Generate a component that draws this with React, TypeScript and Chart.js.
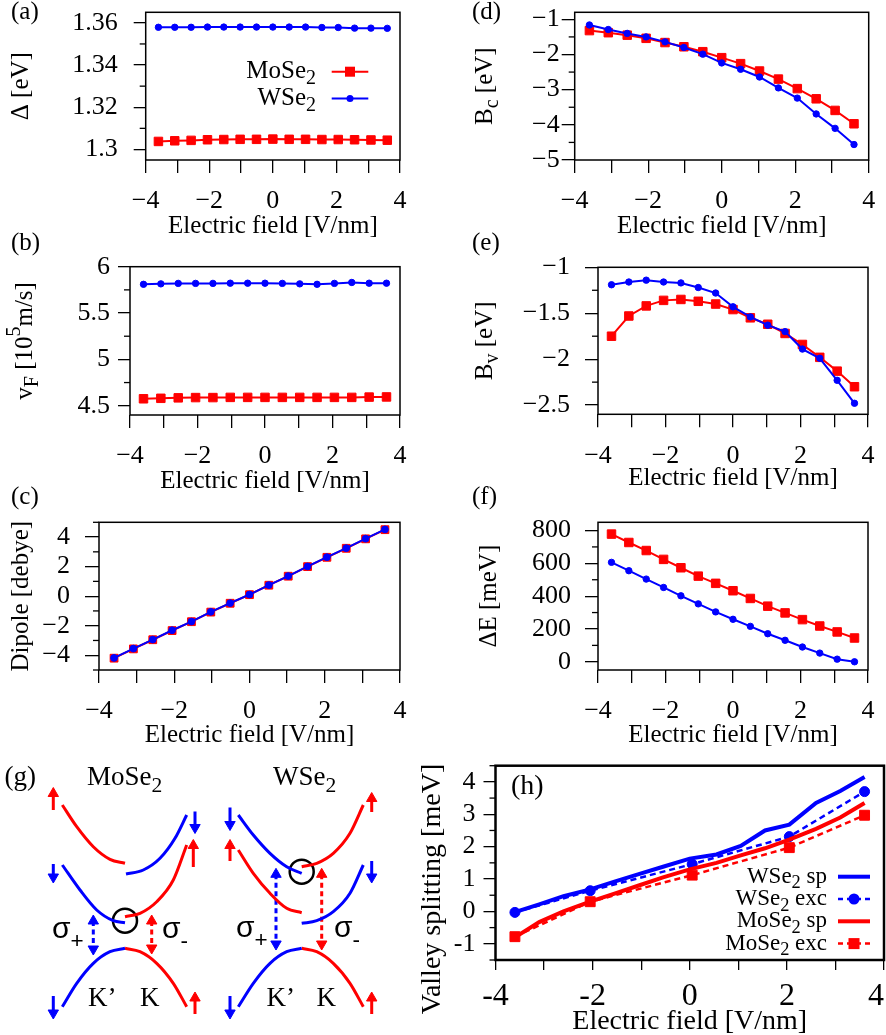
import React, { useEffect, useRef } from 'react';
import { Chart, registerables } from 'chart.js';

Chart.register(...registerables);

const PAGE_W = 886;
const PAGE_H = 1035;
const RED = '#ff0000';
const BLUE = '#0000ff';
const SERIF = '"Liberation Serif", "Times New Roman", Times, serif';
const SANS = '"Liberation Sans", Arial, sans-serif';

// ---------------- data: panels (a)-(f) ----------------
const fieldVnm = [-3.6, -3.086, -2.571, -2.057, -1.543, -1.029, -0.514, 0, 0.514, 1.029, 1.543, 2.057, 2.571, 3.086, 3.6];

const gapMoSe2 = [1.3038, 1.3041, 1.3043, 1.3046, 1.3047, 1.3048, 1.3048, 1.3049, 1.3048, 1.3048, 1.3047, 1.3047, 1.3046, 1.3045, 1.3044];
const gapWSe2 = [1.3579, 1.3579, 1.3579, 1.358, 1.358, 1.358, 1.358, 1.358, 1.358, 1.358, 1.3578, 1.3578, 1.3575, 1.3575, 1.3574];

const vfMoSe2 = [4.575, 4.58, 4.585, 4.588, 4.588, 4.59, 4.59, 4.59, 4.59, 4.59, 4.59, 4.59, 4.59, 4.593, 4.595];
const vfWSe2 = [5.81, 5.815, 5.82, 5.82, 5.82, 5.822, 5.822, 5.822, 5.82, 5.815, 5.81, 5.82, 5.83, 5.822, 5.822];

const dipoleMoSe2 = [-4.2, -3.57, -2.95, -2.33, -1.73, -1.08, -0.48, 0.1, 0.74, 1.35, 2.0, 2.63, 3.24, 3.88, 4.5];
const dipoleWSe2 = [-4.18, -3.55, -2.94, -2.31, -1.72, -1.06, -0.47, 0.11, 0.75, 1.36, 2.01, 2.64, 3.25, 3.89, 4.52];

const bcMoSe2 = [-1.32, -1.38, -1.45, -1.54, -1.66, -1.78, -1.92, -2.09, -2.26, -2.47, -2.7, -2.97, -3.26, -3.59, -3.97];
const bcWSe2 = [-1.16, -1.29, -1.4, -1.5, -1.64, -1.8, -1.99, -2.24, -2.42, -2.64, -2.95, -3.24, -3.69, -4.1, -4.56];

const bvMoSe2 = [-1.75, -1.53, -1.42, -1.36, -1.35, -1.37, -1.4, -1.46, -1.55, -1.62, -1.72, -1.84, -1.98, -2.13, -2.3];
const bvWSe2 = [-1.19, -1.16, -1.14, -1.16, -1.17, -1.22, -1.28, -1.43, -1.54, -1.63, -1.7, -1.89, -1.99, -2.23, -2.48];

const dEMoSe2 = [778, 727, 678, 624, 573, 522, 478, 433, 386, 339, 298, 257, 218, 182, 145];
const dEWSe2 = [606, 555, 504, 453, 402, 353, 304, 259, 216, 171, 131, 90, 53, 16, 0];

// ---------------- data: panel (h) ----------------
const spField = [-3.6, -3.1, -2.6, -2.05, -1.55, -1.05, -0.55, 0, 0.55, 1.05, 1.55, 2.05, 2.6, 3.1, 3.6];
const wse2Sp = [-0.02, 0.22, 0.47, 0.68, 0.92, 1.15, 1.38, 1.63, 1.76, 2.02, 2.5, 2.68, 3.35, 3.72, 4.15];
const mose2Sp = [-0.8, -0.33, 0.0, 0.3, 0.55, 0.8, 1.05, 1.3, 1.5, 1.73, 1.95, 2.22, 2.55, 2.9, 3.35];
const excField = [-3.6, -2.05, 0.05, 2.05, 3.6];
const wse2Exc = [-0.03, 0.64, 1.46, 2.31, 3.7];
const mose2Exc = [-0.78, 0.3, 1.12, 1.97, 2.97];

// ---------------- tick labels ----------------
const fieldTicks = [-4, -3, -2, -1, 0, 1, 2, 3, 4];
const fieldTickLabels = ['\u22124', '', '\u22122', '', '0', '', '2', '', '4'];
// last label of (h) is drawn separately (it sits against the figure edge)
const fieldTickLabelsH = ['-4', '', '-2', '', '0', '', '2', '', ''];
const fieldLastLabelH = '4';

const gapTicks = [1.3, 1.32, 1.34, 1.36];
const gapTickLabels = ['1.3', '1.32', '1.34', '1.36'];
const gapMinor = [1.31, 1.33, 1.35];

const vfTicks = [4.5, 5, 5.5, 6];
const vfTickLabels = ['4.5', '5', '5.5', '6'];
const vfMinor = [4.75, 5.25, 5.75];

const dipoleTicks = [-4, -2, 0, 2, 4];
const dipoleTickLabels = ['\u22124', '\u22122', '0', '2', '4'];
const dipoleMinor = [-5, -3, -1, 1, 3, 5];

const bcTicks = [-5, -4, -3, -2, -1];
const bcTickLabels = ['\u22125', '\u22124', '\u22123', '\u22122', '\u22121'];
const bcMinor = [-4.5, -3.5, -2.5, -1.5];

const bvTicks = [-2.5, -2, -1.5, -1];
const bvTickLabels = ['\u22122.5', '\u22122', '\u22121.5', '\u22121'];
const bvMinor = [-2.25, -1.75, -1.25];

const dETicks = [0, 200, 400, 600, 800];
const dETickLabels = ['0', '200', '400', '600', '800'];
const dEMinor = [100, 300, 500, 700];

const vsTicks = [-1, 0, 1, 2, 3, 4];
const vsTickLabels = ['-1', '0', '1', '2', '3', '4'];
const vsMinor = [-1.5, -0.5, 0.5, 1.5, 2.5, 3.5, 4.5];

// ---------------- data: panel (g) schematic (k, E in arbitrary units) ----------------
const moCbTopKp: number[][] = [[6.23, 23.0], [7.67, 20.83], [9.33, 18.83], [11.0, 17.57], [12.5, 17.17]];
const moCbTopK: number[][] = [[12.6, 16.1], [14.33, 16.5], [16.0, 17.67], [17.5, 19.67], [18.67, 22.0]];
const moCbBotKp: number[][] = [[6.23, 17.0], [8.0, 14.5], [9.67, 12.5], [11.33, 11.43], [12.5, 11.23]];
const moCbBotK: number[][] = [[12.5, 11.83], [14.0, 12.17], [15.67, 13.33], [17.33, 15.5], [18.67, 19.0]];
const moVbKp: number[][] = [[6.23, 2.83], [7.67, 5.17], [9.33, 7.17], [11.0, 8.33], [12.5, 8.67]];
const moVbK: number[][] = [[12.5, 8.67], [14.0, 8.33], [15.67, 7.17], [17.33, 5.17], [18.67, 2.83]];

const wCbTopKp: number[][] = [[23.83, 22.0], [25.33, 20.0], [27.0, 18.17], [28.67, 16.83], [30.17, 16.17]];
const wCbTopK: number[][] = [[30.17, 16.83], [31.67, 17.17], [33.33, 18.17], [35.0, 20.17], [36.33, 23.0]];
const wCbBotKp: number[][] = [[23.83, 18.5], [25.33, 16.17], [27.0, 14.17], [28.67, 12.67], [30.17, 12.23]];
const wCbBotK: number[][] = [[30.17, 11.17], [31.67, 11.43], [33.33, 12.33], [35.0, 14.17], [36.33, 17.0]];
const wVbKp: number[][] = [[23.83, 2.83], [25.33, 5.17], [27.0, 7.17], [28.67, 8.33], [30.17, 8.67]];
const wVbK: number[][] = [[30.17, 8.67], [31.67, 8.33], [33.33, 7.17], [35.0, 5.17], [36.33, 2.83]];

// spin arrows: [k, E_tail, E_tip]
const spinRed: number[][] = [[5.33, 22.5, 24.75], [19.33, 16.8, 19.55], [19.5, 2.1, 4.3], [37.17, 22.3, 24.25], [23.0, 17.4, 19.55], [37.17, 2.1, 4.3]];
const spinBlue: number[][] = [[19.5, 22.35, 20.15], [5.33, 17.1, 15.2], [5.33, 3.9, 1.6], [23.0, 22.75, 20.45], [37.17, 17.4, 15.2], [23.0, 3.9, 1.6]];
// optical transitions: [k, E_top, E_bottom]
const opticalBlue: number[][] = [[9.33, 12.0, 8.0], [27.6, 16.67, 8.5]];
const opticalRed: number[][] = [[15.17, 12.0, 8.1], [32.17, 16.67, 8.5]];
const valleyCircles: number[][] = [[12.5, 11.43], [30.17, 16.33]];

// ---------------- helpers ----------------
type Part = { t: string; sub?: boolean; sup?: boolean };
type TextItem = {
  parts: Part[]; x: number; y: number; size: number;
  align?: 'left' | 'center' | 'right'; rotate?: boolean; family?: string; subDy?: number; subScale?: number;
};

function drawRich(ctx: CanvasRenderingContext2D, it: TextItem) {
  const fam = it.family || SERIF;
  const ss = it.subScale || 0.8;
  ctx.save();
  ctx.translate(it.x, it.y);
  if (it.rotate) ctx.rotate(-Math.PI / 2);
  ctx.fillStyle = '#000';
  ctx.textBaseline = 'middle';
  ctx.textAlign = 'left';
  const segs = it.parts.map((p) => {
    const fs = p.sub || p.sup ? it.size * ss : it.size;
    ctx.font = `${fs}px ${fam}`;
    return { p, fs, w: ctx.measureText(p.t).width };
  });
  const total = segs.reduce((s, g) => s + g.w, 0);
  const align = it.align || 'left';
  let cx = align === 'left' ? 0 : align === 'center' ? -total / 2 : -total;
  for (const g of segs) {
    ctx.font = `${g.fs}px ${fam}`;
    const dy = g.p.sub ? it.size * (it.subDy ?? 0.3) : g.p.sup ? -it.size * 0.42 : 0;
    ctx.fillText(g.p.t, cx, dy);
    cx += g.w;
  }
  ctx.restore();
}

type LegendRow = {
  parts: Part[]; y: number; textRight: number; x0: number; x1: number; size: number;
  color: string; width: number; dash?: number[]; marker?: 'rect' | 'circle'; mSize?: number;
};

function drawLegendRow(ctx: CanvasRenderingContext2D, r: LegendRow) {
  drawRich(ctx, { parts: r.parts, x: r.textRight, y: r.y, size: r.size, align: 'right' });
  ctx.save();
  ctx.strokeStyle = r.color;
  ctx.lineWidth = r.width;
  ctx.setLineDash(r.dash || []);
  ctx.beginPath();
  ctx.moveTo(r.x0, r.y);
  ctx.lineTo(r.x1, r.y);
  ctx.stroke();
  ctx.setLineDash([]);
  if (r.marker) {
    const m = r.mSize || 8;
    const cx = (r.x0 + r.x1) / 2;
    ctx.fillStyle = r.color;
    if (r.marker === 'rect') ctx.fillRect(cx - m / 2, r.y - m / 2, m, m);
    else {
      ctx.beginPath();
      ctx.arc(cx, r.y, m / 2, 0, Math.PI * 2);
      ctx.fill();
    }
  }
  ctx.restore();
}

type Series = { xs: number[]; ys: number[]; color: string; width: number; marker?: 'rect' | 'circle'; r?: number; dash?: number[] };

function toDataset(s: Series) {
  return {
    data: s.xs.map((x, i) => ({ x, y: s.ys[i] })),
    borderColor: s.color,
    backgroundColor: s.color,
    borderWidth: s.width,
    borderDash: s.dash || [],
    pointStyle: s.marker || 'circle',
    pointRadius: s.marker ? s.r : 0,
    pointHoverRadius: s.marker ? s.r : 0,
    pointBackgroundColor: s.color,
    pointBorderColor: s.color,
    pointBorderWidth: 1,
    tension: 0,
    fill: false,
  };
}

type AxisDef = {
  min: number; max: number; ticks: number[]; labels: string[]; minor?: number[];
  tickLen: number; minorLen?: number; pad: number; font: number;
};

type PanelDef = {
  box: [number, number, number, number];
  axisW: number; axisH: number;
  x: AxisDef; y: AxisDef; series: Series[]; frame: number;
  texts: TextItem[]; legend?: LegendRow[];
};

function axisOptions(d: AxisDef, isX: boolean, size: number) {
  return {
    type: 'linear',
    position: isX ? 'bottom' : 'left',
    min: d.min,
    max: d.max,
    afterBuildTicks: (s: any) => {
      s.ticks = d.ticks.map((v) => ({ value: v }));
    },
    afterFit: (s: any) => {
      if (isX) s.height = size;
      else s.width = size;
      s.paddingLeft = 0; s.paddingRight = 0; s.paddingTop = 0; s.paddingBottom = 0;
    },
    ticks: {
      autoSkip: false, maxRotation: 0, minRotation: 0, includeBounds: false,
      padding: d.pad, color: '#000', font: { family: SERIF, size: d.font },
      callback: (_v: any, i: number) => d.labels[i],
    },
    grid: { drawOnChartArea: false, color: '#000', lineWidth: 1.3, tickLength: d.tickLen },
    border: { display: false },
  };
}

function panelConfig(p: PanelDef): any {
  const [L, T, R, B] = p.box;
  const decor = {
    id: 'decor',
    afterDatasetsDraw(chart: any) {
      const ctx = chart.ctx as CanvasRenderingContext2D;
      const a = chart.chartArea;
      ctx.save();
      ctx.strokeStyle = '#000';
      ctx.lineWidth = p.frame;
      ctx.strokeRect(a.left, a.top, a.right - a.left, a.bottom - a.top);
      ctx.lineWidth = 1.3;
      const ys = chart.scales.y;
      for (const v of p.y.minor || []) {
        const py = ys.getPixelForValue(v);
        ctx.beginPath();
        ctx.moveTo(a.left - (p.y.minorLen || 6), py);
        ctx.lineTo(a.left, py);
        ctx.stroke();
      }
      ctx.restore();
      for (const t of p.texts) drawRich(ctx, t);
      for (const lg of p.legend || []) drawLegendRow(ctx, lg);
    },
  };
  return {
    type: 'line',
    data: { datasets: p.series.map(toDataset) },
    options: {
      responsive: false,
      animation: false,
      events: [],
      devicePixelRatio: 1,
      layout: { autoPadding: false, padding: { left: L - p.axisW, top: T, right: PAGE_W - R, bottom: PAGE_H - B - p.axisH } },
      plugins: { legend: { display: false }, tooltip: { enabled: false } },
      scales: { x: axisOptions(p.x, true, p.axisH), y: axisOptions(p.y, false, p.axisW) },
    },
    plugins: [decor],
  };
}

const TKF = 26;
const xAxisStd: AxisDef = { min: -4, max: 4, ticks: fieldTicks, labels: fieldTickLabels, tickLen: 13, pad: 13, font: TKF };
const XTITLE: Part[] = [{ t: 'Electric field [V/nm]' }];
const TFS = 25;

const PANELS: PanelDef[] = [
  {
    box: [145.7, 12.3, 400, 160], axisW: 145, axisH: 58,
    x: xAxisStd,
    y: { min: 1.295, max: 1.365, ticks: gapTicks, labels: gapTickLabels, minor: gapMinor, tickLen: 12, pad: 16, font: TKF },
    frame: 1.5,
    series: [
      { xs: fieldVnm, ys: gapWSe2, color: BLUE, width: 2, marker: 'circle', r: 3.2 },
      { xs: fieldVnm, ys: gapMoSe2, color: RED, width: 2, marker: 'rect', r: 6 },
    ],
    texts: [
      { parts: [{ t: '(a)' }], x: 11, y: 12.5, size: TFS },
      { parts: XTITLE, x: 272.9, y: 226.7, size: TFS, align: 'center' },
      { parts: [{ t: '\u0394 [eV]' }], x: 21, y: 86.2, size: TFS, align: 'center', rotate: true },
    ],
    legend: [
      { parts: [{ t: 'MoSe' }, { t: '2', sub: true }], y: 71.7, textRight: 316, x0: 331.7, x1: 368.3, size: TFS, color: RED, width: 2, marker: 'rect', mSize: 10 },
      { parts: [{ t: 'WSe' }, { t: '2', sub: true }], y: 98.5, textRight: 316, x0: 331.7, x1: 368.3, size: TFS, color: BLUE, width: 2, marker: 'circle', mSize: 7 },
    ],
  },
  {
    box: [130, 266.7, 400, 415], axisW: 129, axisH: 58,
    x: xAxisStd,
    y: { min: 4.4, max: 6.0, ticks: vfTicks, labels: vfTickLabels, minor: vfMinor, tickLen: 12, pad: 8, font: TKF },
    frame: 1.5,
    series: [
      { xs: fieldVnm, ys: vfWSe2, color: BLUE, width: 2, marker: 'circle', r: 3.2 },
      { xs: fieldVnm, ys: vfMoSe2, color: RED, width: 2, marker: 'rect', r: 6 },
    ],
    texts: [
      { parts: [{ t: '(b)' }], x: 11, y: 243, size: TFS },
      { parts: XTITLE, x: 265, y: 481.7, size: TFS, align: 'center' },
      {
        parts: [{ t: 'v' }, { t: 'F', sub: true }, { t: ' [10' }, { t: '5', sup: true }, { t: 'm/s]' }],
        x: 25, y: 340.9, size: TFS, align: 'center', rotate: true,
      },
    ],
  },
  {
    box: [99, 522.3, 400, 670], axisW: 98, axisH: 58,
    x: xAxisStd,
    y: { min: -5, max: 5, ticks: dipoleTicks, labels: dipoleTickLabels, minor: dipoleMinor, tickLen: 14, pad: 15, font: TKF },
    frame: 1.5,
    series: [
      { xs: fieldVnm, ys: dipoleWSe2, color: BLUE, width: 2, marker: 'circle', r: 3.4 },
      { xs: fieldVnm, ys: dipoleMoSe2, color: RED, width: 2, marker: 'rect', r: 5.5 },
    ],
    texts: [
      { parts: [{ t: '(c)' }], x: 11, y: 497, size: TFS },
      { parts: XTITLE, x: 249.5, y: 735, size: TFS, align: 'center' },
      { parts: [{ t: 'Dipole [debye]' }], x: 21, y: 596.2, size: TFS, align: 'center', rotate: true },
    ],
  },
  {
    box: [574.7, 12.3, 868.7, 160], axisW: 124, axisH: 58,
    x: xAxisStd,
    y: { min: -5, max: -0.8, ticks: bcTicks, labels: bcTickLabels, minor: bcMinor, tickLen: 13, pad: 2, font: TKF },
    frame: 1.5,
    series: [
      { xs: fieldVnm, ys: bcWSe2, color: BLUE, width: 2, marker: 'circle', r: 3.2 },
      { xs: fieldVnm, ys: bcMoSe2, color: RED, width: 2, marker: 'rect', r: 6 },
    ],
    texts: [
      { parts: [{ t: '(d)' }], x: 472, y: 12.5, size: TFS },
      { parts: XTITLE, x: 721.7, y: 226.7, size: TFS, align: 'center' },
      { parts: [{ t: 'B' }, { t: 'c', sub: true }, { t: ' [eV]' }], x: 485.5, y: 86.2, size: TFS, align: 'center', rotate: true },
    ],
  },
  {
    box: [598, 267.3, 868, 414.3], axisW: 147, axisH: 58,
    x: xAxisStd,
    y: { min: -2.6, max: -1, ticks: bvTicks, labels: bvTickLabels, minor: bvMinor, tickLen: 13, pad: 15, font: TKF },
    frame: 1.5,
    series: [
      { xs: fieldVnm, ys: bvWSe2, color: BLUE, width: 2, marker: 'circle', r: 3.2 },
      { xs: fieldVnm, ys: bvMoSe2, color: RED, width: 2, marker: 'rect', r: 6 },
    ],
    texts: [
      { parts: [{ t: '(e)' }], x: 472, y: 243, size: TFS },
      { parts: XTITLE, x: 733, y: 478.3, size: TFS, align: 'center' },
      { parts: [{ t: 'B' }, { t: 'v', sub: true }, { t: ' [eV]' }], x: 485.5, y: 340.8, size: TFS, align: 'center', rotate: true },
    ],
  },
  {
    box: [598, 522.3, 868, 670], axisW: 147, axisH: 58,
    x: xAxisStd,
    y: { min: -50, max: 850, ticks: dETicks, labels: dETickLabels, minor: dEMinor, tickLen: 13, pad: 14, font: TKF },
    frame: 1.5,
    series: [
      { xs: fieldVnm, ys: dEWSe2, color: BLUE, width: 2, marker: 'circle', r: 3.2 },
      { xs: fieldVnm, ys: dEMoSe2, color: RED, width: 2, marker: 'rect', r: 6 },
    ],
    texts: [
      { parts: [{ t: '(f)' }], x: 472, y: 497, size: TFS },
      { parts: XTITLE, x: 733, y: 735, size: TFS, align: 'center' },
      { parts: [{ t: '\u0394E [meV]' }], x: 489, y: 596.2, size: TFS, align: 'center', rotate: true },
    ],
  },
  {
    box: [495.5, 765.7, 884, 960], axisW: 50, axisH: 60,
    x: { min: -4, max: 4, ticks: fieldTicks, labels: fieldTickLabelsH, tickLen: 10, pad: 7.5, font: 32 },
    y: { min: -1.5, max: 4.5, ticks: vsTicks, labels: vsTickLabels, minor: vsMinor, tickLen: 12, pad: 8, font: 26 },
    frame: 2.5,
    series: [
      { xs: excField, ys: mose2Exc, color: RED, width: 2.5, marker: 'rect', r: 7, dash: [6, 4] },
      { xs: spField, ys: mose2Sp, color: RED, width: 4 },
      { xs: excField, ys: wse2Exc, color: BLUE, width: 2.5, marker: 'circle', r: 5, dash: [6, 4] },
      { xs: spField, ys: wse2Sp, color: BLUE, width: 4 },
    ],
    texts: [
      { parts: [{ t: '(h)' }], x: 511, y: 787, size: 28 },
      { parts: [{ t: fieldLastLabelH }], x: 884, y: 996.7, size: 32, align: 'right' },
      { parts: XTITLE, x: 689.7, y: 1021.7, size: 28, align: 'center' },
      { parts: [{ t: 'Valley splitting [meV]' }], x: 433, y: 889, size: 28, align: 'center', rotate: true },
    ],
    legend: [
      { parts: [{ t: 'WSe' }, { t: '2', sub: true }, { t: ' sp' }], y: 876.7, textRight: 827, x0: 838, x1: 870, size: 23, color: BLUE, width: 4 },
      { parts: [{ t: 'WSe' }, { t: '2', sub: true }, { t: ' exc' }], y: 899, textRight: 827, x0: 838, x1: 870, size: 23, color: BLUE, width: 2.5, dash: [5, 4], marker: 'circle', mSize: 11 },
      { parts: [{ t: 'MoSe' }, { t: '2', sub: true }, { t: ' sp' }], y: 921.3, textRight: 827, x0: 838, x1: 870, size: 23, color: RED, width: 4 },
      { parts: [{ t: 'MoSe' }, { t: '2', sub: true }, { t: ' exc' }], y: 943.6, textRight: 827, x0: 838, x1: 870, size: 23, color: RED, width: 2.5, dash: [5, 4], marker: 'rect', mSize: 11 },
    ],
  },
];

// ---------------- panel (g) ----------------
const HEAD_R = 6; // px
const G_UNIT = 10; // px per unit

const gTexts: TextItem[] = [
  { parts: [{ t: '(g)' }], x: 0.45, y: 25.7, size: 27 },
  { parts: [{ t: 'MoSe' }, { t: '2', sub: true }], x: 8.7, y: 25.67, size: 27 },
  { parts: [{ t: 'WSe' }, { t: '2', sub: true }], x: 27.3, y: 25.67, size: 27 },
  { parts: [{ t: '\u03c3' }, { t: '+', sub: true }], x: 5.2, y: 10.48, size: 30, family: SANS, subDy: 0.4, subScale: 0.75 },
  { parts: [{ t: '\u03c3' }, { t: '-', sub: true }], x: 16.2, y: 10.48, size: 30, family: SANS, subDy: 0.4, subScale: 0.75 },
  { parts: [{ t: '\u03c3' }, { t: '+', sub: true }], x: 23.6, y: 10.6, size: 30, family: SANS, subDy: 0.4, subScale: 0.75 },
  { parts: [{ t: '\u03c3' }, { t: '-', sub: true }], x: 33.4, y: 10.6, size: 30, family: SANS, subDy: 0.4, subScale: 0.75 },
  { parts: [{ t: 'K\u2019' }], x: 8.8, y: 3.6, size: 27 },
  { parts: [{ t: 'K' }], x: 14.0, y: 3.6, size: 27 },
  { parts: [{ t: 'K\u2019' }], x: 26.65, y: 3.6, size: 27 },
  { parts: [{ t: 'K' }], x: 31.65, y: 3.6, size: 27 },
];

function schematicConfig(): any {
  const ds: any[] = [];
  const band = (pts: number[][], color: string) =>
    ds.push({
      data: pts.map(([x, y]) => ({ x, y })),
      borderColor: color, borderWidth: 3, pointRadius: 0, pointHoverRadius: 0,
      cubicInterpolationMode: 'monotone', fill: false,
    });
  band(moCbTopKp, RED); band(moCbTopK, BLUE); band(moCbBotKp, BLUE); band(moCbBotK, RED);
  band(moVbKp, BLUE); band(moVbK, RED);
  band(wCbTopKp, BLUE); band(wCbTopK, RED); band(wCbBotKp, RED); band(wCbBotK, BLUE);
  band(wVbKp, BLUE); band(wVbK, RED);

  const hr = HEAD_R / G_UNIT;
  const spin = (a: number[], color: string) => {
    const [k, e0, e1] = a;
    const dir = Math.sign(e1 - e0);
    ds.push({
      data: [{ x: k, y: e0 }, { x: k, y: e1 - dir * hr }],
      borderColor: color, borderWidth: 3,
      pointStyle: 'triangle', pointRadius: [0, HEAD_R], pointHoverRadius: [0, HEAD_R],
      pointRotation: [0, dir > 0 ? 0 : 180],
      pointBackgroundColor: color, pointBorderColor: color, pointBorderWidth: 1,
    });
  };
  spinRed.forEach((a) => spin(a, RED));
  spinBlue.forEach((a) => spin(a, BLUE));

  const optical = (a: number[], color: string) => {
    const [k, top, bot] = a;
    ds.push({
      data: [{ x: k, y: top - hr }, { x: k, y: bot + hr }],
      borderColor: color, borderWidth: 3, borderDash: [5, 3.5],
      pointStyle: 'triangle', pointRadius: HEAD_R, pointHoverRadius: HEAD_R,
      pointRotation: [0, 180],
      pointBackgroundColor: color, pointBorderColor: color, pointBorderWidth: 1,
    });
  };
  opticalBlue.forEach((a) => optical(a, BLUE));
  opticalRed.forEach((a) => optical(a, RED));

  ds.push({
    data: valleyCircles.map(([x, y]) => ({ x, y })),
    showLine: false, pointStyle: 'circle', pointRadius: 12, pointHoverRadius: 12,
    pointBorderColor: '#000', pointBorderWidth: 2.5, pointBackgroundColor: 'rgba(0,0,0,0)',
    borderColor: '#000',
  });

  const decor = {
    id: 'gdecor',
    afterDatasetsDraw(chart: any) {
      const ctx = chart.ctx as CanvasRenderingContext2D;
      const xs = chart.scales.x;
      const ys = chart.scales.y;
      for (const t of gTexts) {
        drawRich(ctx, { ...t, x: xs.getPixelForValue(t.x), y: ys.getPixelForValue(t.y) });
      }
    },
  };
  const hidden = (min: number, max: number) => ({
    type: 'linear', min, max, display: false,
    afterFit: (s: any) => {
      s.width = 0; s.height = 0;
      s.paddingLeft = 0; s.paddingRight = 0; s.paddingTop = 0; s.paddingBottom = 0;
    },
  });
  return {
    type: 'line',
    data: { datasets: ds },
    options: {
      responsive: false,
      animation: false,
      events: [],
      devicePixelRatio: 1,
      layout: { autoPadding: false, padding: { left: 0, top: 750, right: PAGE_W - 420, bottom: 0 } },
      plugins: { legend: { display: false }, tooltip: { enabled: false } },
      scales: { x: hidden(0, 42), y: hidden(0, 28.5) },
    },
    plugins: [decor],
  };
}

function ChartLayer({ make }: { make: () => any }) {
  const ref = useRef<HTMLCanvasElement>(null);
  useEffect(() => {
    if (!ref.current) return;
    const chart = new Chart(ref.current, make());
    return () => chart.destroy();
  }, []);
  return (
    <canvas
      ref={ref}
      width={PAGE_W}
      height={PAGE_H}
      style={{ position: 'absolute', left: 0, top: 0, width: PAGE_W, height: PAGE_H }}
    />
  );
}

export default function App() {
  return (
    <div style={{ position: 'absolute', left: 0, top: 0, width: PAGE_W, height: PAGE_H, background: '#fff', overflow: 'hidden' }}>
      {PANELS.map((p, i) => (
        <ChartLayer key={i} make={() => panelConfig(p)} />
      ))}
      <ChartLayer make={schematicConfig} />
    </div>
  );
}
